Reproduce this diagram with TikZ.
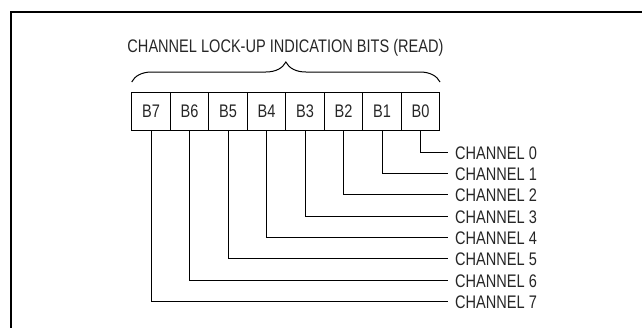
\documentclass[tikz,border=0pt]{standalone}
\usepackage{fontspec}
\setmainfont{Liberation Sans}[FakeStretch=0.80]
\usepackage{tikz}
\usetikzlibrary{decorations.pathreplacing, positioning}

\begin{document}
\begin{tikzpicture}[x=1pt, y=-1pt, every node/.style={text=black!85, font=\fontsize{18.2}{20}\selectfont},
    bitbox/.style={draw, line width=1pt, minimum width=38.5pt, minimum height=38pt, inner sep=0pt, outer sep=0pt},
    wire/.style={line width=1pt}]
        \clip (0,0) rectangle (642,327);
        % frame
        \draw[line width=1.6pt] (11,340) -- (11,12) -- (660,12);
        % bits
        \node[bitbox] (b7) at (151,111) {B7};
        \node[bitbox, right=0pt of b7] (b6) {B6};
        \node[bitbox, right=0pt of b6] (b5) {B5};
        \node[bitbox, right=0pt of b5] (b4) {B4};
        \node[bitbox, right=0pt of b4] (b3) {B3};
        \node[bitbox, right=0pt of b3] (b2) {B2};
        \node[bitbox, right=0pt of b2] (b1) {B1};
        \node[bitbox, right=0pt of b1] (b0) {B0};
        % brace and title
        \coordinate (brl) at (131.7,82);
        \coordinate (brr) at (440,82);
        \draw[line width=1pt, decorate, decoration={brace, amplitude=20pt}] (brl) -- (brr);
        \node (title) at (285.5,47.7) {CHANNEL LOCK-UP INDICATION BITS (READ)};
        % channel wires
        \foreach \i in {0,...,7} {
            \coordinate (c\i) at (447.7,152.3+21.3*\i);
            \node[anchor=west, inner sep=0pt] (ch\i) at (455,153+21.3*\i) {CHANNEL \i};
            \draw[wire] (b\i.south) |- (c\i);
        }
    \end{tikzpicture}
\end{document}
